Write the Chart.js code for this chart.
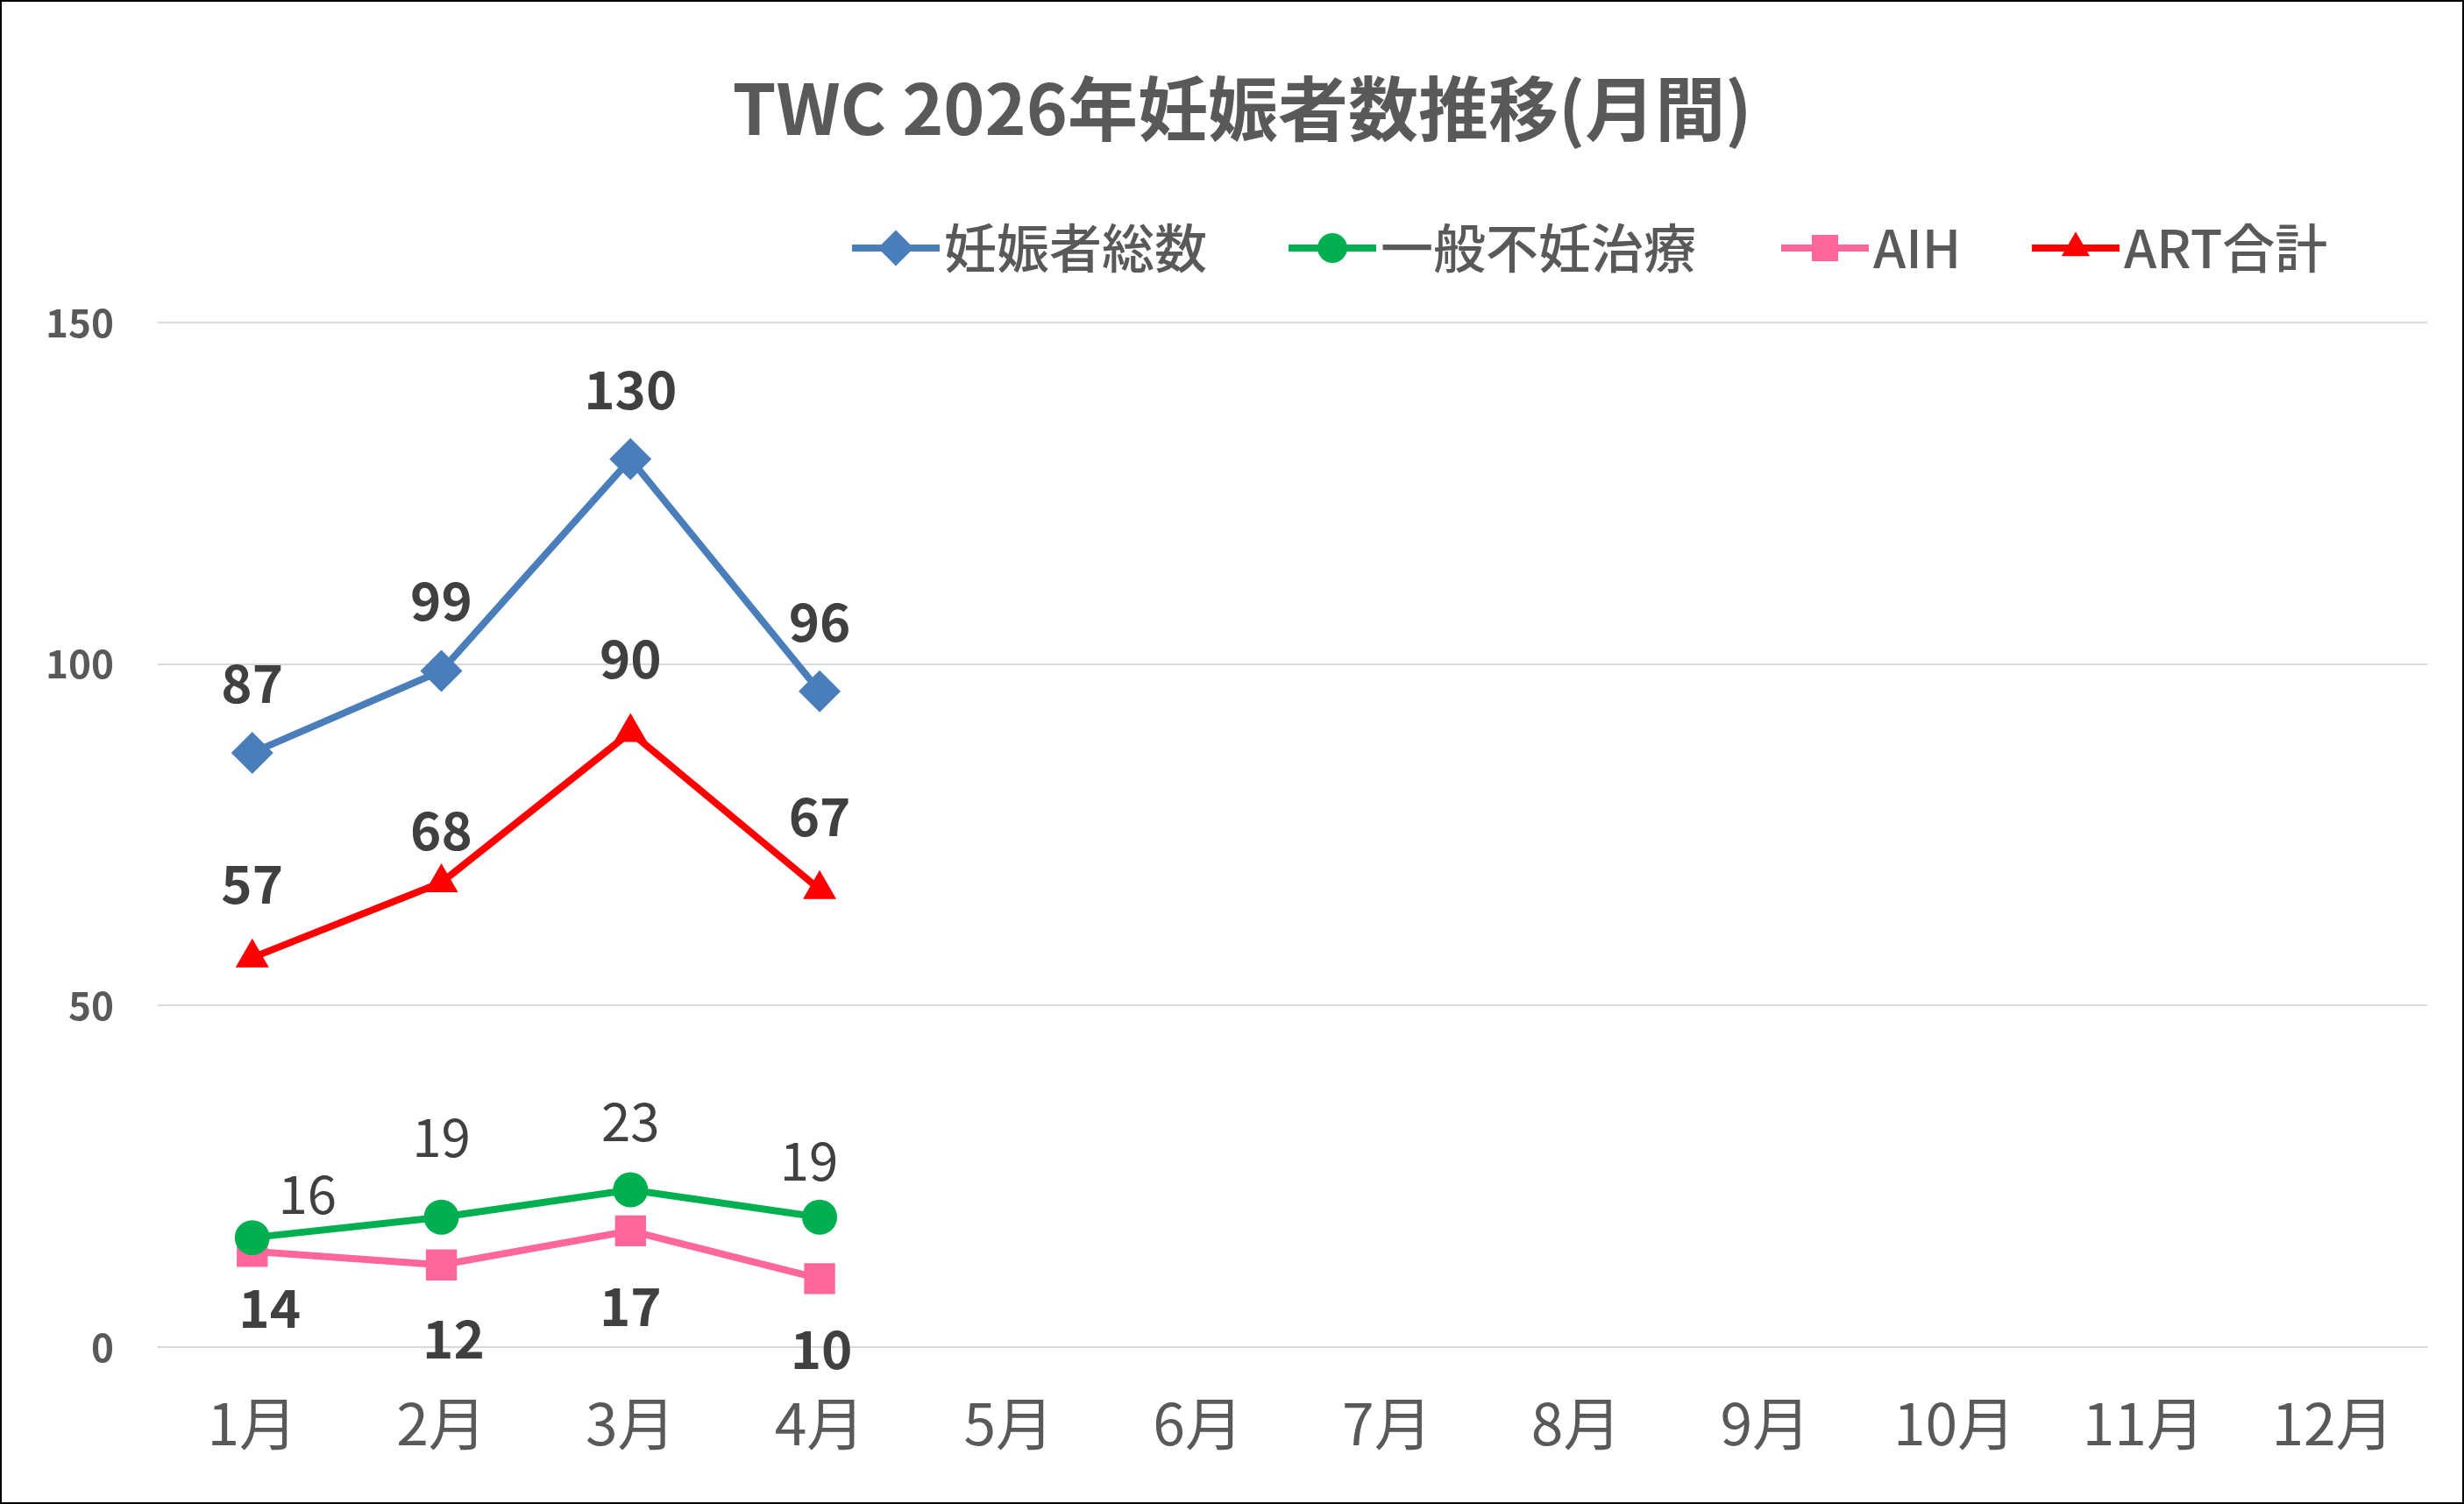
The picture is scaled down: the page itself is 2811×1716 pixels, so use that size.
<!DOCTYPE html>
<html><head><meta charset="utf-8">
<script src="https://cdn.jsdelivr.net/npm/chart.js@4"></script>
<style>
body{margin:0;background:#fff}
#wrap{width:2807px;height:1712px;border:2px solid #000;position:relative}
</style></head><body>
<div id="wrap"><canvas id="c"></canvas></div>
<script>
// data
const months = ["1月","2月","3月","4月","5月","6月","7月","8月","9月","10月","11月","12月"];
const total = [87, 99, 130, 96];
const general = [16, 19, 23, 19];
const aih = [14, 12, 17, 10];
const art = [57, 68, 90, 67];
const seriesNames = ["妊娠者総数", "一般不妊治療", "AIH", "ART合計"];

const FONT = "'Noto Sans CJK JP','Noto Sans',sans-serif";
const colors = ["#4a7ebb", "#00b050", "#ff6699", "#ff0000"];
const styles = ["rectRot", "circle", "rect", "triangle"];
const radii = [24, 20, 25, 22];

// label placement: [dx, dy]
const labelOff = [
  [[0,-80],[0,-80],[0,-80],[0,-80]],
  [[63,-50],[0,-92],[0,-78],[-12,-65]],
  [[20,64],[14,84],[0,86],[2,80]],
  [[0,-84],[0,-60],[0,-84],[0,-84]]
];
const labelBold = [true, false, true, true];

const drawPlugin = {
  id: "extras",
  afterDatasetsDraw(chart) {
    const c = chart.ctx;
    c.save();
    c.textAlign = "center";
    c.textBaseline = "middle";
    chart.data.datasets.forEach((ds, i) => {
      const meta = chart.getDatasetMeta(i);
      c.font = (labelBold[i] ? "bold " : "") + "60px " + FONT;
      c.fillStyle = "#404040";
      meta.data.forEach((pt, j) => {
        const o = labelOff[i][j];
        c.fillText(ds.data[j], pt.x + o[0], pt.y + o[1]);
      });
    });
    // title
    c.font = "bold 80px " + FONT;
    c.fillStyle = "#595959";
    c.fillText("TWC 2026年妊娠者数推移(月間)", 1415, 122);
    // legend
    const xs = [970, 1468, 2030, 2316];
    c.textAlign = "left";
    c.font = "500 60px " + FONT;
    xs.forEach((x, i) => {
      c.strokeStyle = colors[i];
      c.lineWidth = 8;
      c.beginPath(); c.moveTo(x, 281); c.lineTo(x + 100, 281); c.stroke();
      c.fillStyle = colors[i];
      Chart.helpers.drawPoint(c, {pointStyle: styles[i], radius: radii[i] * 0.85, borderWidth: 0}, x + 50, 281);
      c.fillStyle = "#595959";
      c.fillText(seriesNames[i], x + 105, 281);
    });
    c.restore();
  }
};

const sets = [total, general, aih, art].map((d, i) => ({
  label: seriesNames[i],
  data: d,
  borderColor: colors[i],
  backgroundColor: colors[i],
  borderWidth: 8,
  pointStyle: styles[i],
  pointRadius: radii[i],
  pointBorderWidth: 0,
  tension: 0,
  clip: false
}));

new Chart(document.getElementById("c"), {
  type: "line",
  data: { labels: months, datasets: sets },
  options: {
    responsive: true,
    maintainAspectRatio: false,
    animation: false,
    layout: { padding: { top: 366, left: 0, right: 40, bottom: 10 } },
    plugins: { legend: { display: false }, title: { display: false }, tooltip: { enabled: false } },
    scales: {
      x: {
        offset: true,
        grid: { display: false },
        border: { color: "#d9d9d9" },
        ticks: { color: "#595959", font: { size: 66, family: FONT }, padding: 40 }
      },
      y: {
        min: 0, max: 150,
        ticks: { stepSize: 50, color: "#595959", font: { size: 44, weight: "bold", family: FONT }, padding: 50 },
        grid: { color: "#d9d9d9", lineWidth: 2, drawTicks: false },
        border: { display: false }
      }
    }
  },
  plugins: [drawPlugin]
});
</script>
</body></html>
